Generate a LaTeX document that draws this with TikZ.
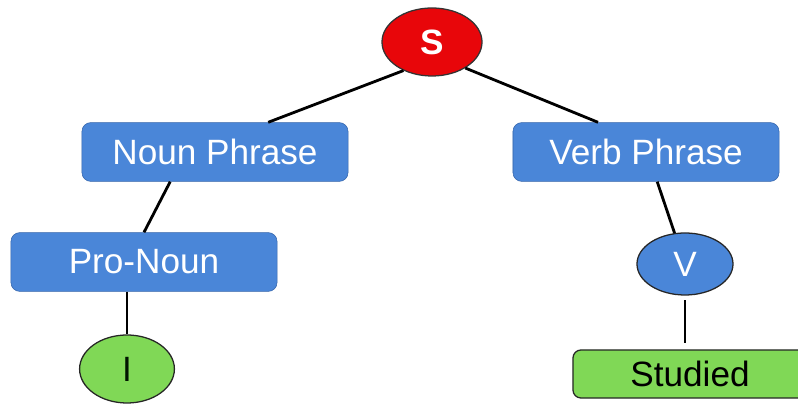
\documentclass[tikz,border=0pt]{standalone}
\usepackage{fontspec}
\setmainfont{Liberation Sans}
\usetikzlibrary{shapes.geometric}

\definecolor{boxblue}{RGB}{74,134,216}
\definecolor{boxblueline}{RGB}{52,100,170}
\definecolor{leafgreen}{RGB}{128,216,86}
\definecolor{rootred}{RGB}{232,6,10}

\tikzset{
  phrasebox/.style={draw=boxblueline, fill=boxblue, rounded corners=0.22cm,
    minimum width=6.65cm, minimum height=1.47cm, text=white,
    font=\fontsize{25}{29}\selectfont},
  rootnode/.style={ellipse, draw=black!80, line width=0.9pt, fill=rootred,
    minimum width=2.5cm, minimum height=1.7cm, inner sep=0pt, text=white,
    font=\fontsize{25}{29}\selectfont\bfseries},
  leafnode/.style={ellipse, draw=black!85, line width=0.9pt, fill=leafgreen,
    minimum width=2.37cm, minimum height=1.7cm, inner sep=0pt,
    text=black!80!green!40!black, font=\fontsize{25}{29}\selectfont},
  verbnode/.style={ellipse, draw=black!85, line width=0.9pt, fill=boxblue,
    minimum width=2.4cm, minimum height=1.55cm, inner sep=0pt, text=white,
    font=\fontsize{25}{29}\selectfont},
  wordbox/.style={draw=black!85, line width=0.9pt, fill=leafgreen,
    rounded corners=0.2cm, minimum width=5.85cm, minimum height=1.2cm,
    text=black, font=\fontsize{25}{29}\selectfont},
  branch/.style={line width=2pt, black}
}

\begin{document}
\begin{tikzpicture}[x=0.025cm,y=-0.025cm]

\useasboundingbox (0,0) rectangle (798,405);
\clip (0,0) rectangle (798,405);

% Racine
\node[rootnode] (S) at (432,42) {S};

% Syntagmes
\node[phrasebox] (NP) at (215,152) {Noun Phrase};
\node[phrasebox] (VP) at (646,152) {Verb Phrase};

% Branche gauche
\node[phrasebox] (PN) at (144,262) {Pro-Noun};
\node[leafnode] (I) at (127,369) {I};

% Branche droite
\node[verbnode] (V) at (685,264) {V};
\node[wordbox] (St) at (690,374) {Studied};

% Liens
\draw[branch] (S.225) -- ([xshift=1.33cm]NP.north);
\draw[branch] (S.-38) -- ([xshift=-1.2cm]VP.north);
\draw[branch] ([xshift=-1.12cm]NP.south) -- (PN.north);
\draw[branch] ([xshift=0.28cm]VP.south) -- (V);
\draw[branch] (I.north |- PN.south) -- (I.north);
\draw[branch] ([yshift=-0.12cm]V.south) -- ([yshift=0.17cm]V.south |- St.north);

\end{tikzpicture}
\end{document}
